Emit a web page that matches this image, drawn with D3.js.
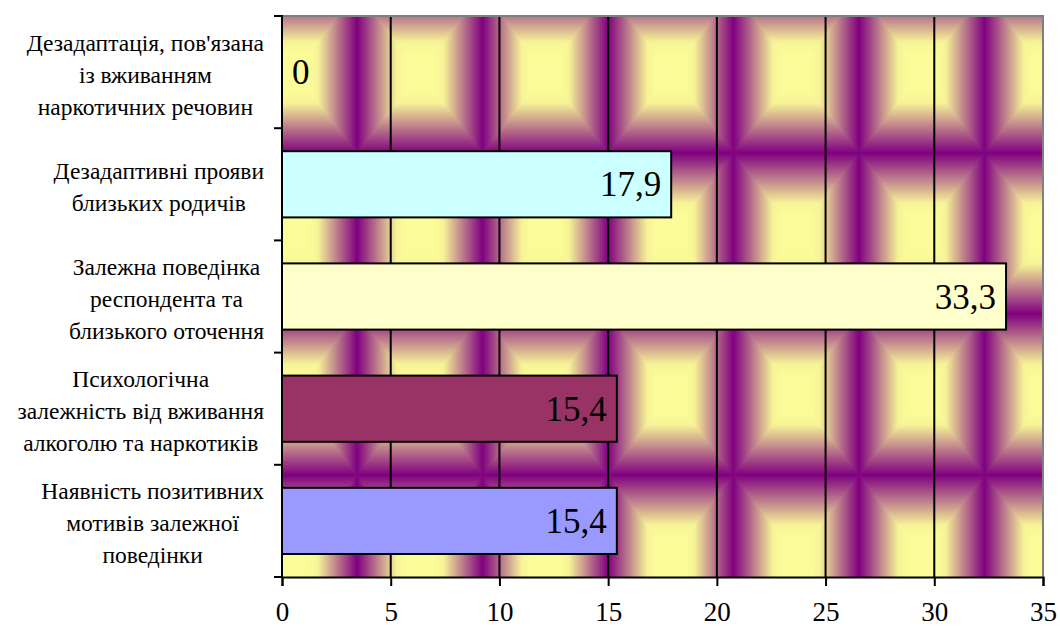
<!DOCTYPE html>
<html>
<head>
<meta charset="utf-8">
<script src="https://cdn.jsdelivr.net/npm/d3@7"></script>
<style>
  html, body { margin: 0; padding: 0; background: #ffffff; }
  svg { display: block; }
</style>
</head>
<body>
<svg id="chart" width="1060" height="633" font-family="Liberation Serif, Times New Roman, Tinos, DejaVu Serif, serif"></svg>
<script>
// Categories (top to bottom), each split into its wrapped lines
const categoryLines = [
  ["Дезадаптація, пов'язана", "із вживанням", "наркотичних речовин"],
  ["Дезадаптивні прояви", "близьких родичів"],
  ["Залежна поведінка", "респондента та", "близького оточення"],
  ["Психологічна", "залежність від вживання", "алкоголю та наркотиків"],
  ["Наявність позитивних", "мотивів залежної", "поведінки"]
];
const values = [0, 17.9, 33.3, 15.4, 15.4];
const barColors = ["#99CCFF", "#CCFFFF", "#FFFFCC", "#993366", "#9999FF"];
const xTicks = [0, 5, 10, 15, 20, 25, 30, 35];

const svg = d3.select("#chart");
const plot = { left: 282, right: 1043, top: 16, bottom: 577 };

// Pick a font size that gives a sample string the wanted width
function fitSize(sample, width, base) {
  const t = svg.append("text").attr("font-size", base).text(sample);
  const w = t.node().getComputedTextLength();
  t.remove();
  return w > 0 ? base * width / w : base;
}
const labelSize = Math.min(23.5, fitSize("залежність від вживання", 255, 20));
const valueSize = Math.min(35, fitSize("17,9", 62, 30));
const tickSize = Math.min(27, fitSize("10", 27, 24));

const x = d3.scaleLinear().domain([0, 35]).range([plot.left, plot.right]);
const y = d3.scaleBand()
  .domain(d3.range(values.length))
  .range([plot.top, plot.bottom])
  .paddingInner(0.41)
  .paddingOuter(0.205);
const step = (plot.bottom - plot.top) / values.length;

// Tiled "from centre" gradient: yellow core fading to purple edges
const defs = svg.append("defs");
const stops = [
  [0, "#800080"], [0.62, "#F6F397"], [0.75, "#FBFB98"], [1, "#FCFC9A"]
];
function grad(id, x1, y1, x2, y2) {
  const g = defs.append("linearGradient").attr("id", id)
    .attr("x1", x1).attr("y1", y1).attr("x2", x2).attr("y2", y2);
  stops.forEach(s => g.append("stop").attr("offset", s[0]).attr("stop-color", s[1]));
}
grad("gL", 0, 0, 1, 0);
grad("gR", 1, 0, 0, 0);
grad("gT", 0, 0, 0, 1);
grad("gB", 0, 1, 0, 0);

const tw = 125.5, th = 161;
const pat = defs.append("pattern").attr("id", "tile")
  .attr("patternUnits", "userSpaceOnUse")
  .attr("x", 357).attr("y", 153).attr("width", tw).attr("height", th);
pat.append("rect").attr("x", 0).attr("y", 0).attr("width", tw / 2 + 0.5).attr("height", th).attr("fill", "url(#gL)");
pat.append("rect").attr("x", tw / 2).attr("y", 0).attr("width", tw / 2).attr("height", th).attr("fill", "url(#gR)");
pat.append("path").attr("d", `M0,0L${tw},0L${tw / 2},${th / 2}Z`).attr("fill", "url(#gT)");
pat.append("path").attr("d", `M0,${th}L${tw},${th}L${tw / 2},${th / 2}Z`).attr("fill", "url(#gB)");

svg.append("rect")
  .attr("x", plot.left).attr("y", plot.top)
  .attr("width", plot.right - plot.left).attr("height", plot.bottom - plot.top)
  .attr("fill", "url(#tile)");

// Vertical gridlines
svg.append("g").selectAll("line")
  .data(xTicks.slice(1, -1))
  .join("line")
  .attr("x1", d => x(d)).attr("x2", d => x(d))
  .attr("y1", plot.top).attr("y2", plot.bottom)
  .attr("stroke", "#000").attr("stroke-width", 2);

// Plot frame (top and right edges)
svg.append("path")
  .attr("d", `M${plot.left},${plot.top}H${plot.right}V${plot.bottom}`)
  .attr("fill", "none").attr("stroke", "#808080").attr("stroke-width", 2);

// Bars
svg.append("g").selectAll("rect")
  .data(values.map((v, i) => ({ v, i })).filter(d => d.v > 0))
  .join("rect")
  .attr("x", x(0))
  .attr("y", d => y(d.i))
  .attr("width", d => x(d.v) - x(0))
  .attr("height", y.bandwidth())
  .attr("fill", d => barColors[d.i])
  .attr("stroke", "#000").attr("stroke-width", 2);

// Value labels
const fmt = v => String(v).replace(".", ",");
svg.append("g").selectAll("text")
  .data(values.map((v, i) => ({ v, i })))
  .join("text")
  .attr("x", d => d.v > 0 ? x(d.v) - 10 : x(0) + 10)
  .attr("y", d => y(d.i) + y.bandwidth() / 2 + 12)
  .attr("text-anchor", d => d.v > 0 ? "end" : "start")
  .attr("font-size", valueSize)
  .attr("fill", "#000")
  .text(d => fmt(d.v));

// X axis
const xAxis = svg.append("g")
  .attr("transform", `translate(0,${plot.bottom})`)
  .call(d3.axisBottom(x).tickValues(xTicks).tickSize(9).tickPadding(16));
xAxis.attr("font-family", null).attr("font-size", null);
xAxis.select(".domain").attr("stroke", "#000").attr("stroke-width", 2);
xAxis.selectAll(".tick line").attr("stroke", "#000").attr("stroke-width", 2);
xAxis.selectAll(".tick text")
  .attr("font-size", tickSize).attr("fill", "#000");

// Y axis: ticks at category boundaries
const yAxisG = svg.append("g");
yAxisG.append("line")
  .attr("x1", plot.left).attr("x2", plot.left)
  .attr("y1", plot.top - 1).attr("y2", plot.bottom + 1)
  .attr("stroke", "#000").attr("stroke-width", 2);
yAxisG.selectAll("line.tick")
  .data(d3.range(values.length + 1))
  .join("line").attr("class", "tick")
  .attr("x1", plot.left - 8).attr("x2", plot.left)
  .attr("y1", d => plot.top + d * step).attr("y2", d => plot.top + d * step)
  .attr("stroke", "#000").attr("stroke-width", 2);

// Category labels: lines centred within a block right-aligned to the axis
const lineH = 32;
const labelRight = 264;
categoryLines.forEach((lines, i) => {
  const cy = y(i) + y.bandwidth() / 2;
  const g = svg.append("g");
  const texts = g.selectAll("text").data(lines).join("text")
    .attr("font-size", labelSize)
    .attr("fill", "#000")
    .attr("text-anchor", "middle")
    .attr("y", (d, j) => cy + (j - (lines.length - 1) / 2) * lineH + 10.5)
    .text(d => d);
  let maxW = 0;
  texts.each(function () { maxW = Math.max(maxW, this.getComputedTextLength()); });
  texts.attr("x", labelRight - maxW / 2);
});
</script>
</body>
</html>
